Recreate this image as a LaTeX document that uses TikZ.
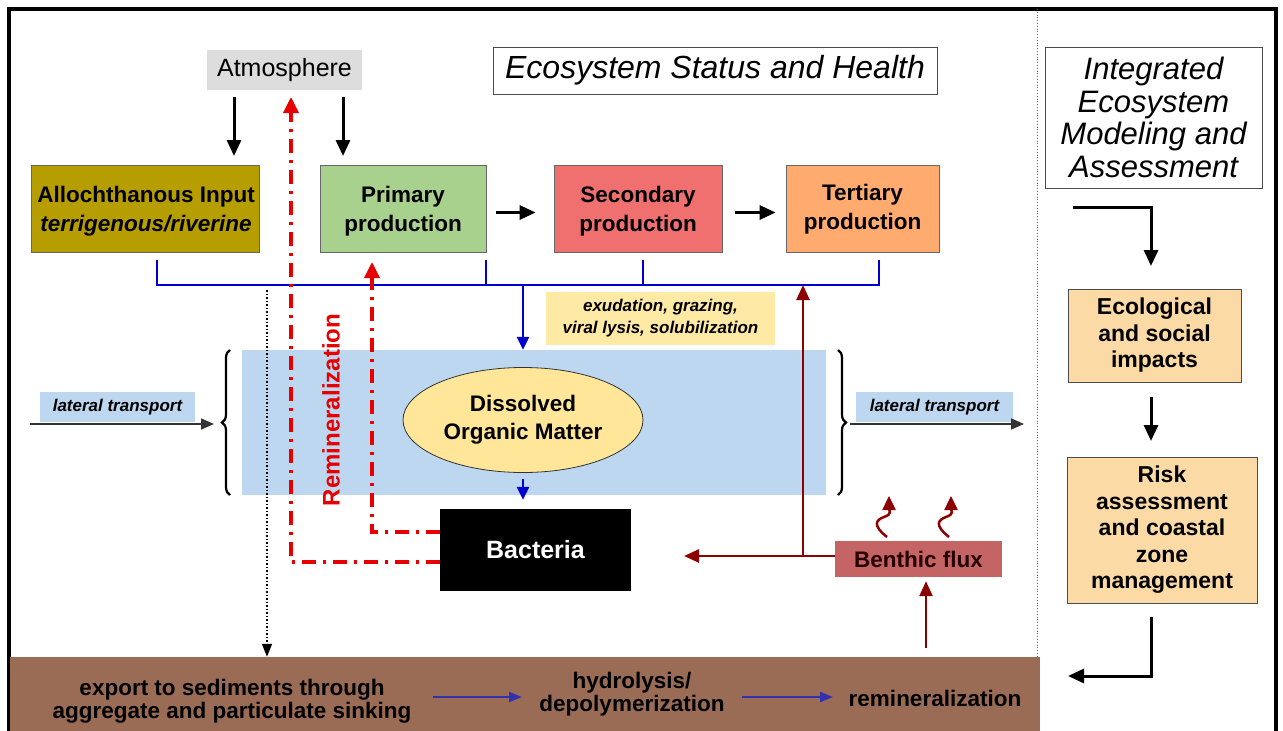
\documentclass[tikz,border=0pt]{standalone}
\usepackage{fontspec}
\setmainfont{Liberation Sans}
\usetikzlibrary{arrows.meta,shapes.geometric,decorations.pathreplacing,calc}
\definecolor{olivebox}{RGB}{182,158,0}
\definecolor{primgreen}{RGB}{169,209,142}
\definecolor{secred}{RGB}{240,112,112}
\definecolor{terorange}{RGB}{255,170,110}
\definecolor{atmgray}{RGB}{221,221,221}
\definecolor{waterblue}{RGB}{189,215,240}
\definecolor{domyellow}{RGB}{255,230,153}
\definecolor{exyellow}{RGB}{255,234,165}
\definecolor{benthic}{RGB}{196,100,100}
\definecolor{sediment}{RGB}{155,108,85}
\definecolor{panelbox}{RGB}{252,218,165}
\definecolor{darkred}{RGB}{140,0,0}
\definecolor{linkblue}{RGB}{0,0,205}
\definecolor{sedblue}{RGB}{50,50,175}
\definecolor{remred}{RGB}{230,0,0}
\begin{document}
\begin{tikzpicture}[x=1pt,y=-1pt,
  every node/.style={inner sep=0pt, align=center},
  prodbox/.style={draw=black!60, line width=0.8pt, minimum height=87pt},
  prodtext/.style={font=\bfseries\fontsize{22.5}{29}\selectfont},
  panel/.style={draw=black!70, line width=0.8pt, fill=panelbox, font=\bfseries\fontsize{23}{26.5}\selectfont},
  blk/.style={line width=3pt, -{Triangle[length=16pt,width=14pt]}},
  bluelink/.style={draw=linkblue, line width=2.5pt},
  bluearrow/.style={bluelink, -{Triangle[length=13pt,width=12pt]}},
  redlink/.style={draw=remred, line width=3.5pt, dash pattern=on 14pt off 7pt on 3pt off 7pt, -{Triangle[length=16pt,width=15pt]}},
  drarrow/.style={draw=darkred, line width=2.5pt, -{Triangle[length=15pt,width=13pt]}},
  latlabel/.style={fill=waterblue, font=\bfseries\itshape\fontsize{17}{19}\selectfont},
  latarrow/.style={draw=black!80, line width=1.6pt, -{Triangle[length=13pt,width=11pt]}},
  sedtext/.style={font=\bfseries\fontsize{22.5}{23}\selectfont},
  sedarrow/.style={draw=sedblue, line width=2.2pt, -{Triangle[length=13pt,width=10pt]}},
  squig/.style={draw=darkred, line width=2.5pt, -{Triangle[length=14pt,width=13pt]}}
]
\useasboundingbox (0,0) rectangle (1283,731);
% frame
\draw[line width=3.5pt] (9,731) -- (9,9) -- (1276,9) -- (1276,731);
\draw[black!60, line width=0.8pt, dotted] (1037,9) -- (1037,657);

% sediment band
\node[fill=sediment, minimum width=1030pt, minimum height=74pt] (sed) at (525,694) {};

% water band
\node[fill=waterblue, minimum width=584pt, minimum height=145pt] (water) at (534,422.5) {};
\draw[line width=2.2pt, decorate, decoration={brace, amplitude=8pt}] (230,495) -- (230,350);
\draw[line width=2.2pt, decorate, decoration={brace, amplitude=8pt}] (838,350) -- (838,495);

% top labels
\node[fill=atmgray, minimum width=155pt, minimum height=40pt, font=\fontsize{25}{28}\selectfont] (atm) at (284.5,70) {Atmosphere};
\node[draw=black!70, line width=0.8pt, minimum width=444pt, minimum height=47pt, font=\itshape\fontsize{32}{34}\selectfont] (esh) at (715,70.5) {Ecosystem Status and Health};
\node[draw=black!70, line width=0.8pt, minimum width=217pt, minimum height=141pt, font=\itshape\fontsize{31}{32.5}\selectfont] (iema) at (1153.5,117.5) {Integrated\\Ecosystem\\Modeling and\\Assessment};

% production boxes
\node[prodbox, fill=olivebox, minimum width=228pt] (allo) at (145,208.5) {};
\node[prodbox, fill=primgreen, minimum width=166pt] (prim) at (403,208.5) {};
\node[prodbox, fill=secred, minimum width=168pt] (sec) at (638,208.5) {};
\node[prodbox, fill=terorange, minimum width=153pt] (ter) at (862.5,208.5) {};
\node[prodtext] (allot) at ($(allo.center)+(1,3)$) {Allochthanous Input\\\textit{terrigenous/riverine}};
\node[prodtext] (primt) at ($(prim.center)+(0,3)$) {Primary\\production};
\node[prodtext] (sect) at ($(sec.center)+(0,3)$) {Secondary\\production};
\node[prodtext] (tert) at ($(ter.center)+(0,1)$) {Tertiary\\production};

% atmosphere arrows
\coordinate (a1) at (234,97);
\coordinate (a2) at (343,97);
\draw[blk] (a1) -- (234,156);
\draw[blk] (a2) -- (343,156);
\draw[blk] ($(prim.east)+(10,4)$) -- ($(sec.west)+(-18,4)$);
\draw[blk] ($(sec.east)+(13,4)$) -- ($(ter.west)+(-10,4)$);

% blue collector
\coordinate (c1) at (157,260);
\coordinate (c2) at (486,260);
\coordinate (c3) at (643,260);
\coordinate (c4) at (879,260);
\coordinate (cb) at (523,285);
\draw[bluelink] (c1) -- (157,285) -- (879,285) -- (c4);
\draw[bluelink] (c2) -- (486,285);
\draw[bluelink, line width=1.2pt] (c3) -- (643,285);
\draw[bluearrow] (cb) -- (water.north -| cb);

\node[fill=exyellow, minimum width=229pt, minimum height=53pt, font=\bfseries\itshape\fontsize{17}{22}\selectfont] (exu) at (660.5,318.5) {exudation, grazing,\\viral lysis, solubilization};

% DOM and bacteria
\node[ellipse, draw=black!80, line width=0.8pt, fill=domyellow, minimum width=240pt, minimum height=105pt, font=\bfseries\fontsize{22.5}{28}\selectfont] (dom) at (523,420) {Dissolved\\Organic Matter};
\node[fill=black, text=white, minimum width=191pt, minimum height=82pt, font=\bfseries\fontsize{25}{28}\selectfont] (bac) at (535.5,550) {Bacteria};
\draw[bluearrow] ($(dom.south)+(0,6)$) -- ($(bac.north -| dom.south)+(0,-9)$);

% lateral transport
\node[latlabel, minimum width=155pt, minimum height=30pt] (latl) at (117.5,407) {lateral transport};
\node[latlabel, minimum width=157pt, minimum height=30pt] (latr) at (934.5,407) {lateral transport};
\coordinate (ll0) at (30,424);
\coordinate (ll1) at (214,424);
\coordinate (lr0) at (850,424);
\coordinate (lr1) at (1024,424);
\draw[latarrow] (ll0) -- (ll1);
\draw[latarrow] (lr0) -- (lr1);

% remineralization
\draw[redlink] (bac.west |- 0,562) -- (291,562) -- (291,97);
\draw[redlink] (bac.west |- 0,532) -- (372,532) -- (372,262);
\node[rotate=90, text=remred, font=\bfseries\fontsize{24}{26}\selectfont] (remlab) at (331,410) {Remineralization};

% export dotted
\coordinate (ex0) at (267,290);
\draw[black, line width=1.5pt, dotted, -{Triangle[length=13pt,width=10pt]}] (ex0) -- (sed.north -| ex0);

% benthic flux
\node[fill=benthic, minimum width=167pt, minimum height=36pt, text=black!85!red, font=\bfseries\fontsize{22.5}{24}\selectfont] (ben) at (918.5,559) {Benthic flux};
\coordinate (bj) at (803,556);
\draw[drarrow] (ben.west |- bj) -- (684,556);
\draw[drarrow] (bj) -- (803,285);
\coordinate (bs) at (926,648);
\draw[drarrow] (bs) -- ($(ben.south -| bs)+(0,4)$);
\coordinate (q1) at (887,537);
\coordinate (q2) at (949,537);
\draw[squig] (q1) .. controls (872,525) and (876,520) .. (884,517) .. controls (893,514) and (889,510) .. (889,496);
\draw[squig] (q2) .. controls (934,525) and (938,520) .. (946,517) .. controls (955,514) and (951,510) .. (951,496);

% sediment texts
\node[sedtext] (s1) at (232,701) {export to sediments through\\aggregate and particulate sinking};
\node[sedtext] (s2) at (632,694) {hydrolysis/\\depolymerization};
\node[sedtext] (s3) at (935,698) {remineralization};
\draw[sedarrow] (433,697) -- (522,697);
\draw[sedarrow] (742,697) -- (833,697);

% right panel
\node[panel, minimum width=173pt, minimum height=93pt] (eco) at (1154.5,335.5) {Ecological\\and social\\impacts};
\node[panel, minimum width=190pt, minimum height=146pt] (risk) at (1162,530) {Risk\\assessment\\and coastal\\zone\\management};
\coordinate (p0) at (1073,207);
\draw[blk] (p0) -- (1151,207) -- (1151,266);
\draw[blk] (1151,397) -- (1151,441);
\draw[blk] (1151,617) -- (1151,676) -- (1068,676);
\end{tikzpicture}
\end{document}
